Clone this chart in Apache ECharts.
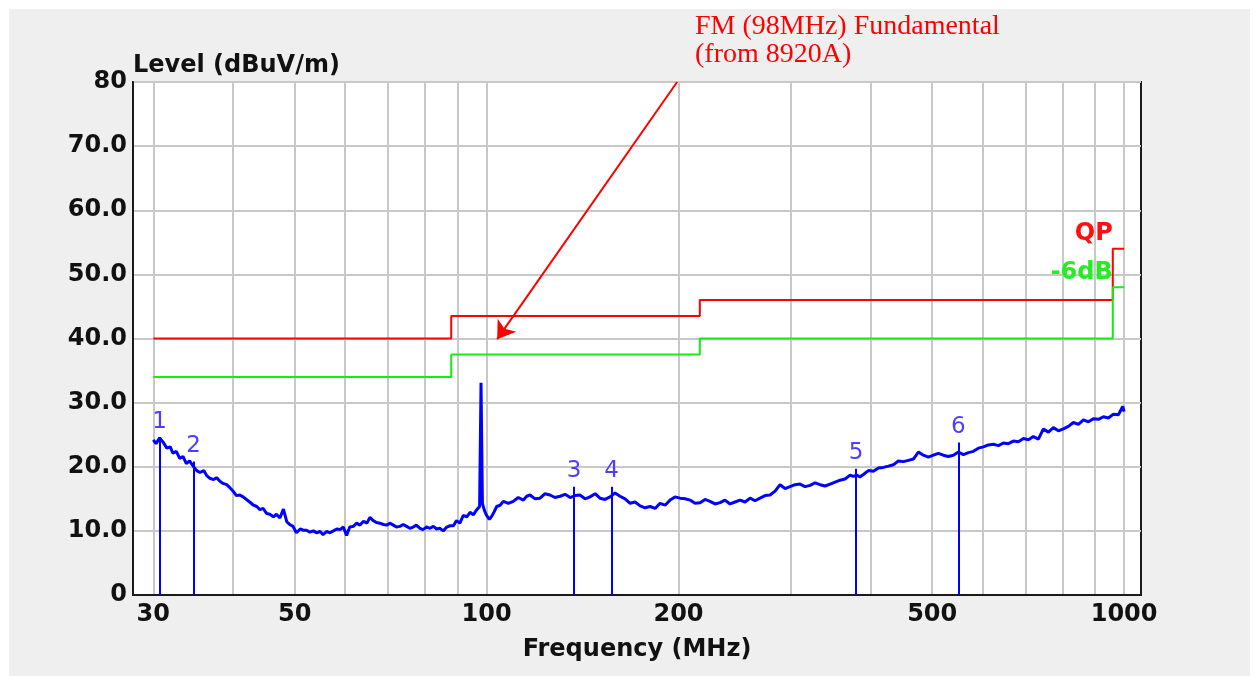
<!DOCTYPE html>
<html><head><meta charset="utf-8">
<script src="https://cdn.jsdelivr.net/npm/echarts@6/dist/echarts.min.js"></script>
<style>html,body{margin:0;padding:0;background:#fff}#c{width:1257px;height:681px}</style>
</head><body><div id="c"></div>
<script>
// ---- data ----
const traceFreq = [30.0,30.3,30.7,31.1,31.5,31.9,32.2,32.6,33.0,33.4,33.8,34.2,34.7,35.1,35.5,36.0,36.4,36.8,37.3,37.7,38.2,38.6,39.1,39.6,40.1,40.5,41.0,41.5,42.0,42.5,43.1,43.6,44.1,44.6,45.2,45.7,46.3,46.8,47.4,48.0,48.6,49.1,49.7,50.3,51.0,51.6,52.2,52.8,53.5,54.1,54.8,55.4,56.1,56.8,57.5,58.2,58.9,59.6,60.3,61.0,61.8,62.5,63.3,64.1,64.9,65.6,66.4,67.2,68.0,68.9,69.7,70.5,71.4,72.2,73.1,74.0,74.9,75.8,76.7,77.6,78.6,79.5,80.5,81.5,82.5,83.5,84.5,85.5,86.6,87.6,88.7,89.7,90.8,91.9,93.1,94.2,95.3,96.5,97.5,98.0,98.5,99.2,100.0,101.0,101.9,102.8,103.7,105.0,106.2,108.2,110.1,112.1,114.2,115.6,117.0,119.1,121.3,123.5,125.7,128.0,130.4,132.8,135.2,137.6,140.1,142.7,145.3,148.0,150.6,153.4,156.2,159.0,161.9,164.9,167.9,171.0,174.1,177.3,180.5,183.8,187.1,190.5,194.0,197.5,201.1,204.8,208.5,212.3,216.2,220.1,224.1,228.2,232.4,236.6,240.9,245.3,249.8,254.4,259.0,263.7,268.5,273.4,278.4,283.5,288.6,293.9,299.2,304.7,310.2,315.9,321.7,327.6,333.5,339.6,345.8,352.1,358.5,365.0,371.7,376.0,380.8,385.0,390.0,397.0,404.3,411.7,419.2,426.9,434.6,442.5,450.6,458.8,467.2,475.7,484.3,493.1,502.2,511.3,520.6,530.1,539.8,549.6,559.7,569.9,580.2,590.8,601.6,612.6,623.7,635.1,646.7,658.5,670.5,682.7,695.1,707.8,720.7,733.8,747.2,760.8,774.7,788.8,803.2,817.8,832.7,847.9,863.4,879.1,895.1,911.4,928.1,945.0,962.2,979.7,995.0,1000];
const traceLevel = [24.2,23.6,24.5,23.8,22.9,23.1,22.1,22.4,21.3,21.6,20.5,20.9,20.0,19.4,19.1,19.4,18.6,18.2,18.0,18.3,17.7,17.4,17.2,16.7,16.1,15.5,15.6,15.3,14.9,14.5,14.0,13.8,13.3,13.5,12.7,12.6,12.2,12.6,12.0,13.4,11.4,11.0,10.7,9.7,10.3,10.1,10.1,9.8,10.0,9.7,9.9,9.4,9.9,9.7,10.0,10.3,10.2,10.6,9.3,10.6,10.7,11.2,10.9,11.5,11.2,12.1,11.6,11.3,11.2,11.0,10.9,11.2,10.9,10.6,10.7,11.0,10.7,10.4,10.6,10.9,10.4,10.2,10.6,10.4,10.7,10.3,10.4,10.0,10.6,10.8,10.8,11.6,11.2,12.4,12.2,12.9,12.5,13.3,13.8,33.1,14.3,13.2,12.4,11.8,12.3,13.0,13.8,14.0,14.6,14.3,14.6,15.2,14.8,15.4,15.6,15.0,15.1,15.8,15.6,15.2,15.4,15.7,15.2,15.5,15.6,15.0,15.3,15.8,15.1,14.9,15.3,15.9,15.4,15.0,14.3,14.5,13.9,13.6,13.8,13.5,14.3,14.0,14.8,15.3,15.1,15.0,14.8,14.3,14.4,14.9,14.6,14.2,14.4,14.8,14.2,14.5,14.8,14.5,15.1,14.7,15.1,15.5,15.6,16.2,17.2,16.6,16.9,17.2,17.3,16.9,17.1,17.5,17.2,17.0,17.3,17.6,17.9,18.1,18.7,18.5,18.7,18.4,18.8,19.4,19.3,19.8,19.9,20.1,20.3,20.9,20.8,21.0,21.2,22.3,21.8,21.5,21.8,22.1,21.8,21.6,21.8,22.3,21.9,22.2,22.4,22.9,23.1,23.4,23.5,23.3,23.7,23.6,24.0,23.9,24.4,24.2,24.7,24.3,25.9,25.4,26.1,25.6,25.9,26.3,26.9,26.6,27.3,27.0,27.5,27.4,27.8,27.6,28.2,28.1,29.4,28.6];
const qpFreq = [30, 88, 88, 216, 216, 960, 960, 1000];
const qpLevel = [40, 40, 43.5, 43.5, 46, 46, 54, 54];
const m6Freq = [30, 88, 88, 216, 216, 960, 960, 1000];
const m6Level = [34, 34, 37.5, 37.5, 40, 40, 48, 48];
const markerNames = ['1', '2', '3', '4', '5', '6'];
const markerFreq = [30.7, 34.7, 137.2, 157.0, 379.8, 549.6];
const markerLevel = [24.5, 20.8, 16.9, 16.9, 19.7, 23.8];
const xLabelValues = [30, 50, 100, 200, 500, 1000];
const xGridValues = [30, 40, 50, 60, 70, 80, 90, 100, 200, 300, 400, 500, 600, 700, 800, 900, 1000];
const xRange = [27.88, 1063];
const yRange = [0, 80];
const yStep = 10;
const noteLines = ['FM (98MHz) Fundamental', '(from 8920A)'];
const noteArrowFrom = [199, 80];
const noteArrowTo = [103.9, 39.9];
const qpLabelAt = [960, 56.3];
const m6LabelAt = [960, 50.2];

// ---- chart ----
const L = Math.log10;
const pts = (f, v) => f.map((x, i) => [L(x), v[i]]);
const boldFont = { fontFamily: 'DejaVu Sans', fontWeight: 'bold', fontSize: 24, color: '#111' };
const chart = echarts.init(document.getElementById('c'), null, { renderer: 'canvas' });
chart.setOption({
  animation: false,
  backgroundColor: '#efefef',
  graphic: [
    { type: 'rect', shape: { x: 0, y: 0, width: 1257, height: 9 }, style: { fill: '#fff' }, silent: true },
    { type: 'rect', shape: { x: 0, y: 0, width: 9, height: 681 }, style: { fill: '#fff' }, silent: true },
    { type: 'rect', shape: { x: 1250, y: 0, width: 7, height: 681 }, style: { fill: '#fff' }, silent: true },
    { type: 'rect', shape: { x: 0, y: 676, width: 1257, height: 5 }, style: { fill: '#fff' }, silent: true },
    { type: 'text', left: 695, top: 13, z: 10,
      style: { text: noteLines.join('\n'), font: '28px "Liberation Serif"', fill: '#ff0000', lineHeight: 28 } }
  ],
  grid: { left: 133, top: 82, right: 116, bottom: 86, show: true, backgroundColor: '#fff',
          borderColor: '#1a1a1a', borderWidth: 2, outerBoundsMode: 'none' },
  xAxis: {
    type: 'value', min: L(xRange[0]), max: L(xRange[1]),
    name: 'Frequency (MHz)', nameLocation: 'middle', nameGap: 43, nameTextStyle: boldFont,
    axisLine: { lineStyle: { color: '#1a1a1a', width: 2 } },
    axisTick: { show: false, customValues: xGridValues.map(L) },
    axisLabel: { customValues: xLabelValues.map(L), margin: 8, ...boldFont,
      formatter: v => String(Math.round(Math.pow(10, v))) },
    splitLine: { show: true, lineStyle: { color: '#c8c8c8', width: 2 } }
  },
  yAxis: {
    type: 'value', min: yRange[0], max: yRange[1], interval: yStep,
    name: 'Level (dBuV/m)', nameLocation: 'end', nameGap: 16,
    nameTextStyle: { ...boldFont, align: 'left', verticalAlign: 'middle' },
    axisLine: { show: true, lineStyle: { color: '#1a1a1a', width: 2 } },
    axisTick: { show: false },
    axisLabel: { margin: 6, ...boldFont,
      formatter: v => (v === 0 ? '0' : v === 80 ? '80' : v.toFixed(1)) },
    splitLine: { show: true, lineStyle: { color: '#c8c8c8', width: 2 } }
  },
  series: [
    { name: 'QP', type: 'line', data: pts(qpFreq, qpLevel), symbol: 'none', z: 3,
      lineStyle: { color: '#ff0000', width: 2 },
      markPoint: { symbolSize: 0, silent: true,
        data: [{ coord: [L(qpLabelAt[0]), qpLabelAt[1]] }],
        label: { show: true, position: 'left', distance: 0, formatter: 'QP',
          fontFamily: 'DejaVu Sans', fontWeight: 'bold', fontSize: 24, color: '#ff1010' } } },
    { name: '-6dB', type: 'line', data: pts(m6Freq, m6Level), symbol: 'none', z: 3,
      lineStyle: { color: '#12ee12', width: 2 },
      markPoint: { symbolSize: 0, silent: true,
        data: [{ coord: [L(m6LabelAt[0]), m6LabelAt[1]] }],
        label: { show: true, position: 'left', distance: 0, formatter: '-6dB',
          fontFamily: 'DejaVu Sans', fontWeight: 'bold', fontSize: 24, color: '#22ee22' } } },
    { name: 'Level', type: 'line', data: pts(traceFreq, traceLevel), symbol: 'none', z: 4,
      lineStyle: { color: '#0000ff', width: 3 } },
    { name: 'markers', type: 'line', data: [], z: 5,
      markLine: { silent: true, symbol: 'none', animation: false,
        lineStyle: { color: '#0000ff', width: 2, type: 'solid' },
        label: { show: true, position: 'end', distance: 4, formatter: '{b}',
          fontFamily: 'DejaVu Sans', fontSize: 23, color: '#4d3fff' },
        data: markerFreq.map((f, i) => [
          { coord: [L(f), 0], name: markerNames[i] },
          { coord: [L(f), markerLevel[i]] }
        ]) } },
    { name: 'note', type: 'line', data: [], z: 6,
      markLine: { silent: true, animation: false, symbol: ['none', 'arrow'], symbolSize: 16,
        lineStyle: { color: '#ff0000', width: 2, type: 'solid' },
        label: { show: false },
        data: [[{ coord: [L(noteArrowFrom[0]), noteArrowFrom[1]], symbol: 'none' },
                { coord: [L(noteArrowTo[0]), noteArrowTo[1]], symbol: 'arrow', symbolSize: 17 }]] } }
  ]
});
</script></body></html>
